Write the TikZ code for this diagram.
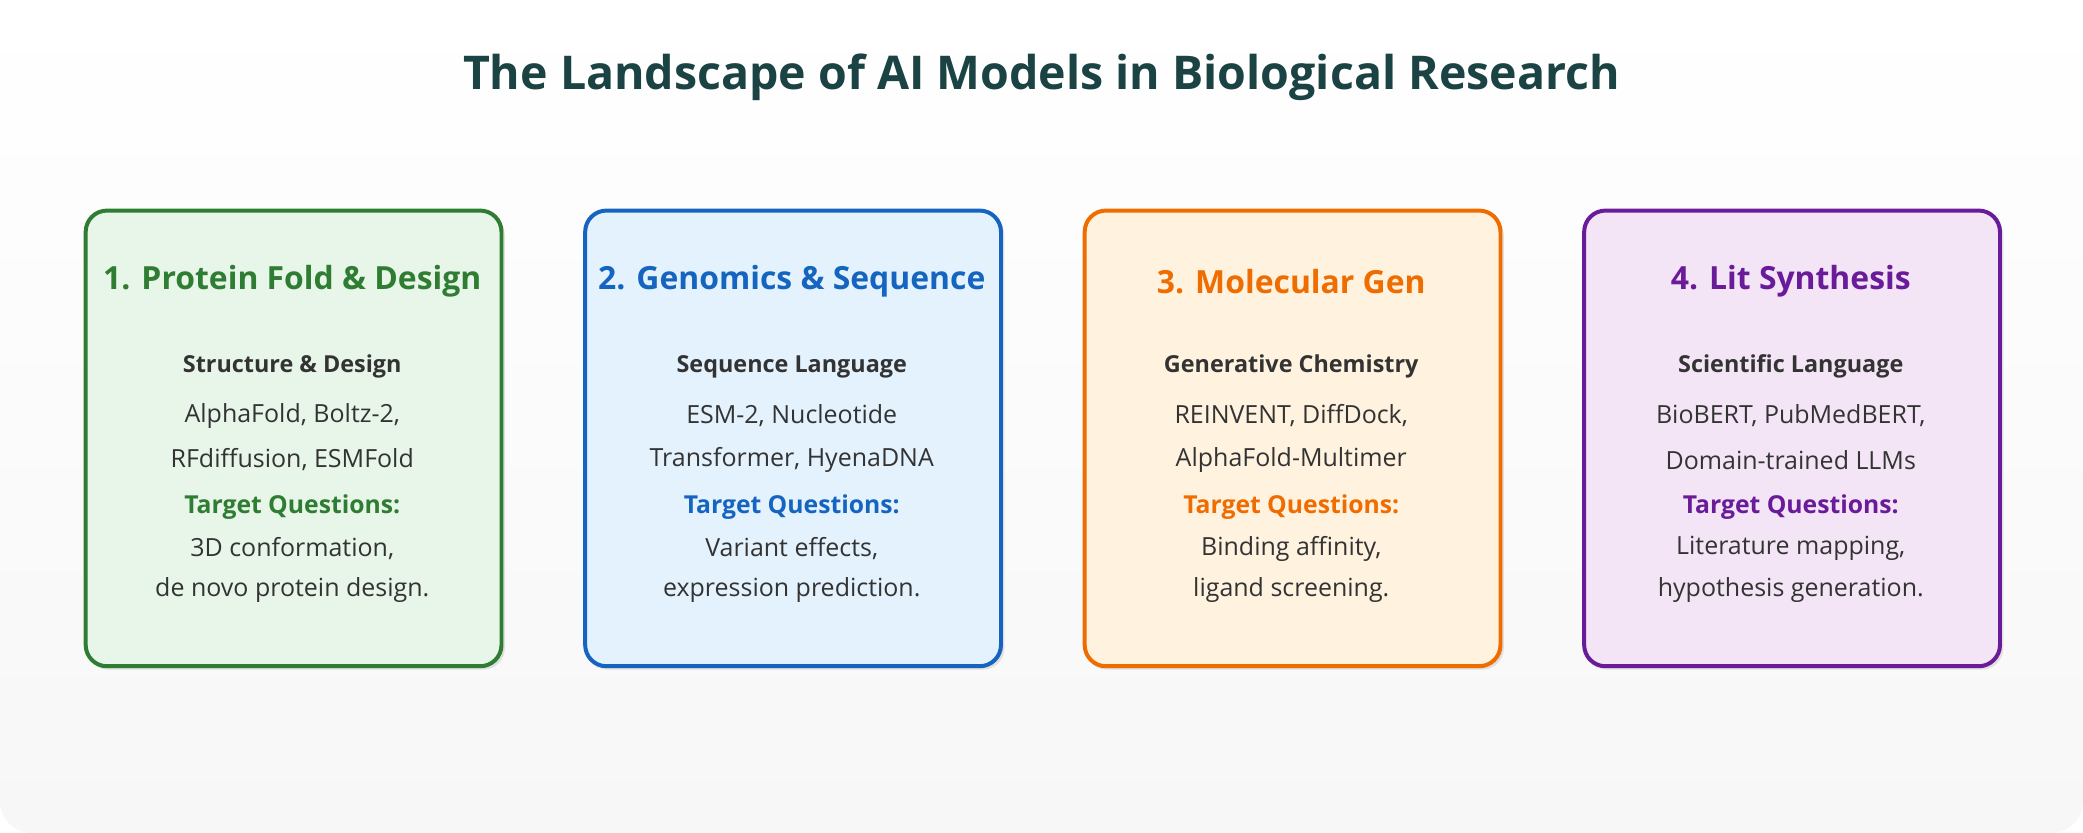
\documentclass[tikz,border=0pt]{standalone}
\usepackage{fontspec}
\setmainfont{Open Sans}
\begin{document}
\begin{tikzpicture}[x=0.5pt,y=-0.5pt,
  card/.style={draw=#1, line width=1.5pt, rounded corners=8pt, minimum width=313*0.5pt, minimum height=343*0.5pt, anchor=north west},
  ttl/.style={font=\fontsize{12}{14}\selectfont\bfseries, text=#1},
  sub/.style={font=\fontsize{8.8}{10}\selectfont\bfseries, text=body},
  txt/.style={font=\fontsize{9.4}{11}\selectfont, text=body},
  tq/.style={font=\fontsize{9.3}{11}\selectfont\bfseries, text=#1}]
\definecolor{bg}{HTML}{F7F7F7}
\definecolor{body}{HTML}{333333}
\definecolor{head}{HTML}{1C4343}
\definecolor{gA}{HTML}{2E7D32}\definecolor{gAf}{HTML}{E8F5E9}
\definecolor{gB}{HTML}{1565C0}\definecolor{gBf}{HTML}{E3F2FD}
\definecolor{gC}{HTML}{EF6C00}\definecolor{gCf}{HTML}{FFF3E0}
\definecolor{gD}{HTML}{6A1B9A}\definecolor{gDf}{HTML}{F3E5F5}
\useasboundingbox (0,0) rectangle (1568,627);
\fill[white] (0,0) rectangle (1568,627);
\shade[top color=white, bottom color=bg, rounded corners=12pt] (0,0) rectangle (1568,627);
\node[font=\fontsize{17.5}{20}\selectfont\bfseries, text=head] (title) at (784,58) {The Landscape of AI Models in Biological Research};
\foreach \i/\x/\c/\t/\s/\a/\b/\d/\e in {
 1/63/gA/{1. Protein Fold \& Design}/{Structure \& Design}/{AlphaFold, Boltz-2,}/{RFdiffusion, ESMFold}/{3D conformation,}/{de novo protein design.},
 2/439/gB/{2. Genomics \& Sequence}/{Sequence Language}/{ESM-2, Nucleotide}/{Transformer, HyenaDNA}/{Variant effects,}/{expression prediction.},
 3/815/gC/{3. Molecular Gen}/{Generative Chemistry}/{REINVENT, DiffDock,}/{AlphaFold-Multimer}/{Binding affinity,}/{ligand screening.},
 4/1191/gD/{4. Lit Synthesis}/{Scientific Language}/{BioBERT, PubMedBERT,}/{Domain-trained LLMs}/{Literature mapping,}/{hypothesis generation.}}{
 \fill[black!12, rounded corners=8pt] (\x+2,161) rectangle (\x+317,504);
 \node[card=\c, fill=\c f] (card\i) at (\x,157) {};
 \node[ttl=\c] (t\i) at (\x+157,212) {\t};
 \node[sub] (s\i) at (\x+157,276) {\s};
 \node[txt] (a\i) at (\x+157,313) {\a};
 \node[txt] (b\i) at (\x+157,346) {\b};
 \node[tq=\c] (q\i) at (\x+157,382) {Target Questions:};
 \node[txt] (d\i) at (\x+157,413) {\d};
 \node[txt] (e\i) at (\x+157,444) {\e};
}
\end{tikzpicture}
\end{document}
